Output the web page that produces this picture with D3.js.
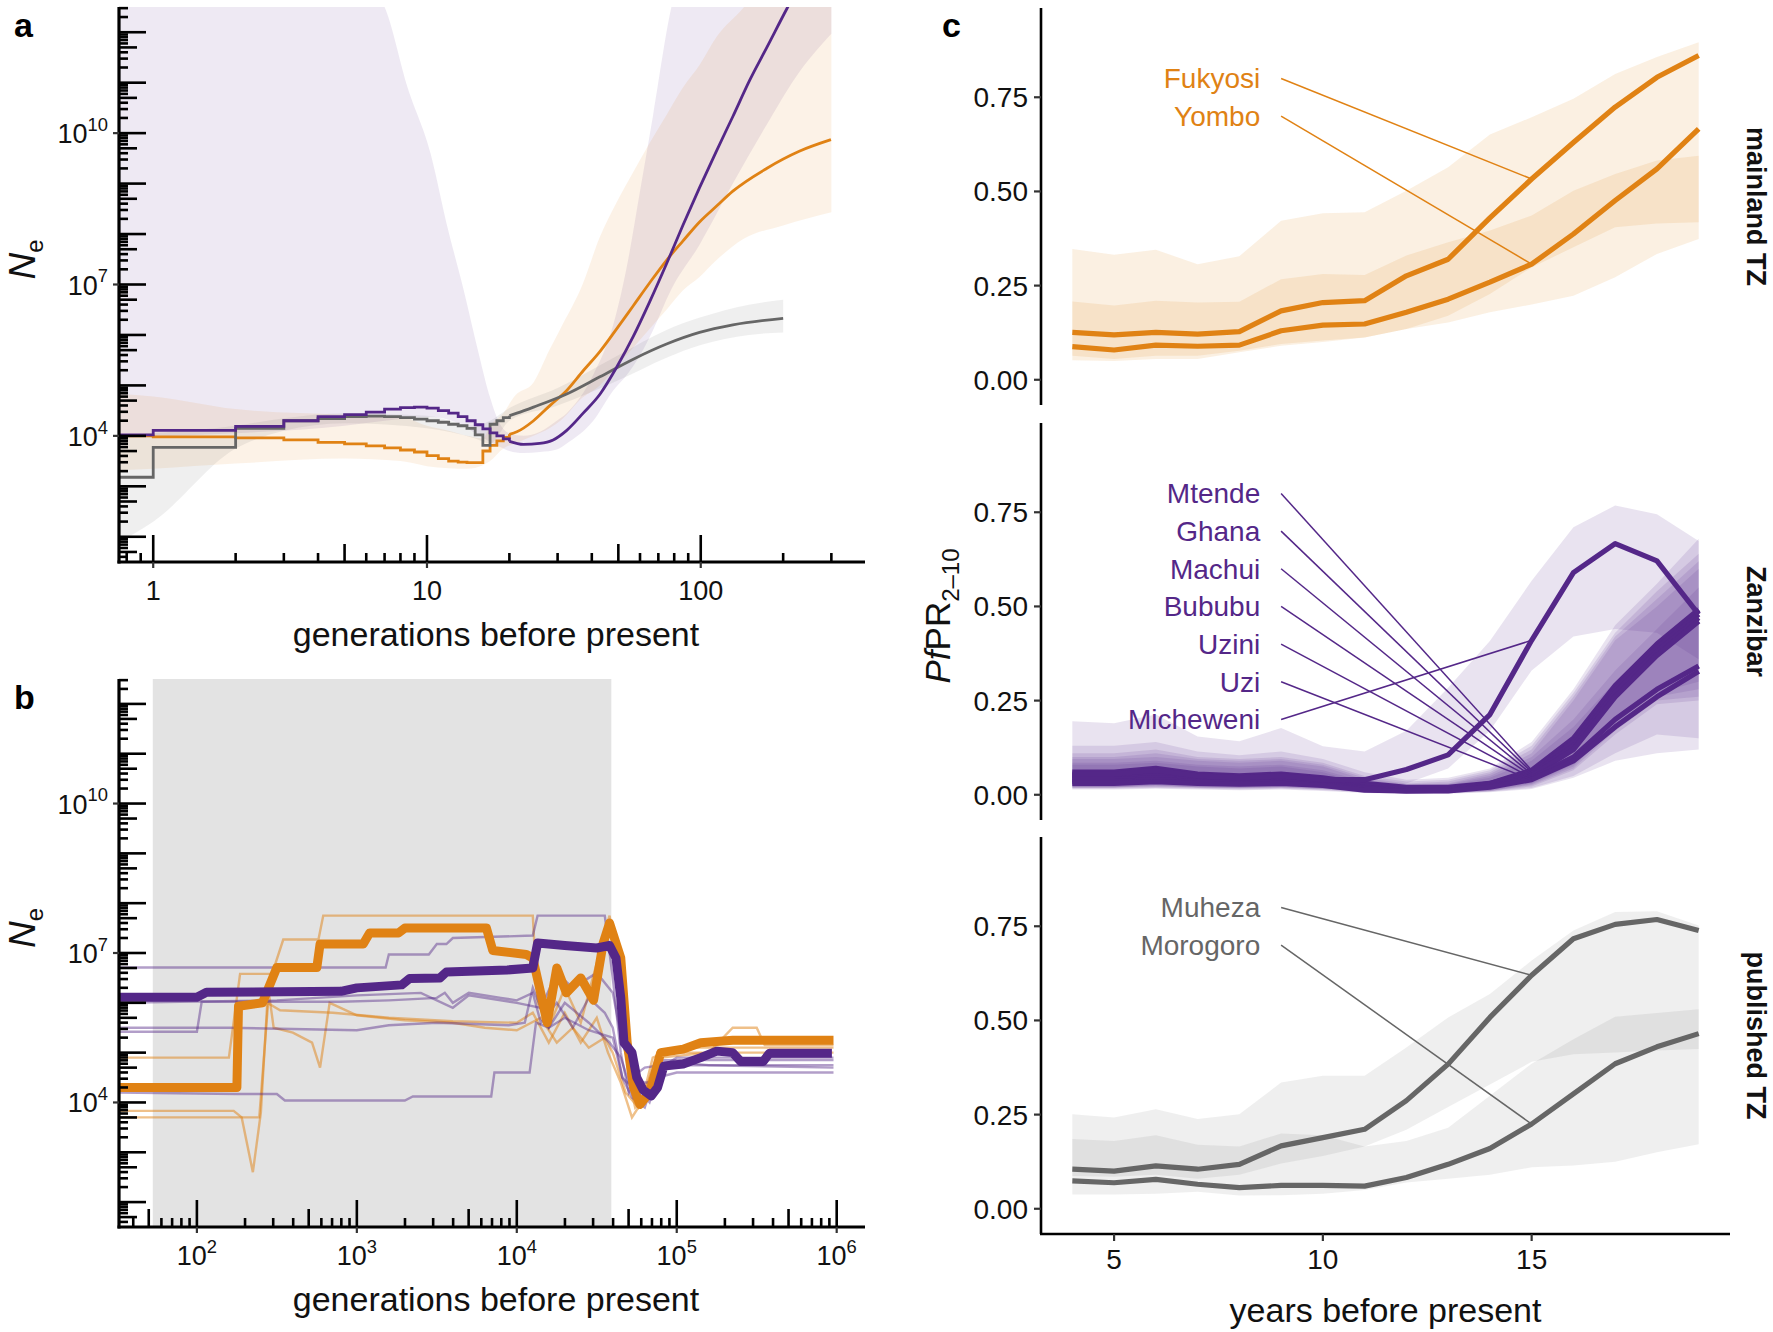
<!DOCTYPE html>
<meta charset="utf-8">
<html>
<head>
  <script src="https://cdn.jsdelivr.net/npm/d3@7"></script>
  <style>
    body { margin: 0; background: #fff; }
    svg { display: block; }
    .sans { font-family: "Liberation Sans", Arial, Helvetica, sans-serif; }
    .narrow { font-family: "Liberation Sans Narrow", "Arial Narrow", "Liberation Sans", sans-serif; }
  </style>
</head>
<body>
<svg id="fig" width="1773" height="1332"></svg>
<script>
  // ---------- panel a : [generations, log10 Ne] ----------
  var aPurpleSteps = [[0.75,4.02],[1,4.11],[2,4.19],[3,4.30],[4,4.38],[5,4.42],[6,4.47],[7,4.53],[8,4.56],[9,4.57],[10,4.55],[11,4.50],[12,4.45],[13,4.38],[14,4.30],[15,4.22],[16,4.14],[17,4.06],[18,4.0],[19,3.94],[20,3.89]]
  var aPurpleCurve = [[20,3.89],[22.5,3.83],[25.8,3.85],[28.9,3.92],[32.4,4.11],[37.2,4.45],[42.9,4.83],[49.3,5.36],[56.7,5.97],[65,6.65],[75,7.41],[86,8.17],[99,8.92],[114,9.64],[131,10.33],[151,11.05],[174,11.69],[207,12.48],[250,13.3]]
  var aOrangeSteps = [[0.75,4.0],[1,3.98],[2,3.96],[3,3.92],[4,3.87],[5,3.84],[6,3.80],[7,3.76],[8,3.72],[9,3.68],[10,3.61],[11,3.55],[12,3.5],[13,3.48],[14,3.47],[15,3.47],[16,3.7],[17,3.81],[18,3.9],[19,3.97],[20,4.03]]
  var aOrangeCurve = [[20,4.03],[21.3,4.08],[24.5,4.3],[28.1,4.6],[32.4,4.9],[37.2,5.29],[42.8,5.67],[49.3,6.12],[56.7,6.58],[65,7.03],[75,7.48],[86,7.86],[99,8.24],[114,8.55],[131,8.85],[174,9.3],[229,9.64],[299,9.87]]
  var aGreySteps = [[0.75,3.18],[1,3.77],[2,4.15],[3,4.30],[4,4.34],[5,4.38],[6,4.39],[7,4.38],[8,4.36],[9,4.33],[10,4.3],[11,4.27],[12,4.23],[13,4.2],[14,4.15],[15,4.02],[16,3.81],[17,4.23],[18,4.3],[19,4.36],[20,4.4]]
  var aGreyCurve = [[20,4.4],[21.3,4.45],[24.5,4.57],[32.4,4.83],[42.8,5.17],[56.7,5.52],[75,5.82],[99,6.05],[131,6.2],[200,6.33]]
  // bands: [generations, lo, hi]
  var aPurpleBand = [[0.75,3.95,13.5],[1,3.98,13.5],[2,4.05,13.5],[5,4.2,13.4],[7.0,4.3,12.5],[8.5,4.35,10.9],[10.3,4.38,9.6],[11.8,4.33,8.2],[13.6,4.2,6.9],[15.5,4.0,5.6],[17,3.88,4.76],[18.5,3.78,4.23],[20,3.7,4.05],[22.5,3.66,4.0],[25.9,3.68,4.08],[29.8,3.73,4.3],[32.4,3.85,4.45],[40.5,4.3,5.21],[47.9,4.9,6.2],[53.6,5.2,7.33],[60,5.6,8.85],[67,6.1,10.36],[78,6.9,12.48],[99,7.79,13.8],[131,9.0,14],[173,10.14,14],[223,11.12,14],[300,11.97,14]]
  var aOrangeBand = [[0.75,3.32,4.83],[1,3.35,4.78],[2,3.45,4.53],[5,3.55,4.42],[8,3.5,4.38],[10,3.4,4.2],[12,3.36,4.1],[14,3.35,4.0],[16,3.42,3.95],[17,3.5,4.2],[19,3.75,4.45],[21,3.85,4.8],[24.5,4.0,5.06],[28,4.15,5.7],[30.7,4.3,6.12],[37,4.76,7.0],[42.8,5.0,7.94],[49,5.36,8.6],[56.7,5.75,9.23],[65,6.12,9.8],[75,6.5,10.36],[86,6.88,10.9],[99,7.15,11.35],[114,7.48,11.9],[143,7.9,12.48],[200,8.17,13.5],[300,8.43,14]]
  var aGreyBand = [[0.75,1.9,4.0],[1,2.3,4.05],[2,3.75,4.2],[3,4.1,4.35],[5,4.25,4.45],[10,4.15,4.4],[15,3.95,4.2],[17,3.85,4.3],[20,4.3,4.55],[30,4.6,4.95],[50,5.1,5.6],[75,5.55,6.1],[100,5.8,6.35],[150,6.0,6.6],[200,6.05,6.7]]

  // ---------- panel b : [log10 generations, log10 Ne] ----------
  var bShade = [53, 39000]
  var bPurpleMean = [[1.51,6.11],[2.0,6.11],[2.06,6.21],[2.9,6.23],[3.0,6.3],[3.28,6.36],[3.33,6.49],[3.52,6.5],[3.56,6.62],[3.94,6.66],[4.1,6.7],[4.13,7.2],[4.3,7.15],[4.5,7.1],[4.58,7.15],[4.62,6.9],[4.65,6.1],[4.67,5.2],[4.72,5.0],[4.75,4.5],[4.79,4.25],[4.84,4.13],[4.88,4.3],[4.92,4.73],[5.04,4.77],[5.15,4.9],[5.25,5.03],[5.35,5.0],[5.4,4.82],[5.54,4.82],[5.58,4.99],[5.97,4.99]]
  var bOrangeMean = [[1.51,4.3],[2.25,4.3],[2.26,5.93],[2.41,6.0],[2.5,6.71],[2.75,6.71],[2.77,7.18],[3.04,7.18],[3.08,7.4],[3.26,7.4],[3.3,7.5],[3.81,7.5],[3.85,7.05],[4.06,6.97],[4.1,6.9],[4.15,6.19],[4.19,5.6],[4.25,6.7],[4.31,6.2],[4.4,6.5],[4.48,6.05],[4.54,7.2],[4.58,7.6],[4.65,6.9],[4.69,5.2],[4.73,4.3],[4.77,3.96],[4.83,4.2],[4.9,5.0],[5.04,5.07],[5.15,5.2],[5.35,5.25],[5.98,5.25]]
  var bOrange1 = [[1.51,4.9],[2.2,4.9],[2.27,6.58],[2.47,6.58],[2.54,7.27],[2.76,7.27],[2.79,7.75],[4.1,7.75],[4.13,6.0],[4.2,5.5],[4.3,6.3],[4.4,5.6],[4.5,6.8],[4.58,7.75],[4.62,7.0],[4.7,4.5],[4.74,3.9],[4.8,4.1],[4.86,4.6],[4.9,4.9],[5.2,5.0],[5.35,5.5],[5.5,5.5],[5.55,5.15],[5.98,5.15]]
  var bOrange2 = [[1.51,3.83],[2.23,3.83],[2.28,3.7],[2.35,2.6],[2.4,3.8],[2.44,6.0],[2.52,5.85],[2.85,5.8],[3.2,5.7],[3.6,5.63],[4.0,5.6],[4.1,5.8],[4.2,5.2],[4.3,5.8],[4.4,5.2],[4.5,5.7],[4.57,5.0],[4.65,4.4],[4.72,3.7],[4.78,4.0],[4.85,4.9],[5.0,5.1],[5.98,5.1]]
  var bOrange3 = [[1.51,3.7],[2.39,3.7],[2.45,6.2],[2.48,5.5],[2.6,5.4],[2.72,5.2],[2.77,4.7],[2.83,6.0],[3.0,5.75],[3.3,5.65],[3.6,5.6],[3.8,5.5],[4.0,5.45],[4.15,5.7],[4.25,5.2],[4.35,5.5],[4.45,5.1],[4.55,5.3],[4.6,5.0],[4.68,4.2],[4.76,3.9],[4.82,4.4],[4.88,5.0],[5.98,5.0]]
  var bPurple1 = [[1.51,6.71],[3.18,6.71],[3.2,6.97],[3.45,6.97],[3.5,7.18],[3.56,7.18],[3.6,7.3],[4.1,7.35],[4.13,7.75],[4.55,7.75],[4.6,6.5],[4.65,5.0],[4.7,4.2],[4.76,4.6],[4.8,4.7],[5.0,4.8],[5.2,4.75],[5.98,4.75]]
  var bPurple2 = [[1.51,5.42],[2.0,5.42],[2.03,6.02],[2.9,6.02],[3.2,6.05],[3.5,6.1],[3.55,6.2],[3.6,6.0],[3.7,6.2],[3.9,6.1],[4.0,6.05],[4.1,6.2],[4.15,5.6],[4.25,6.0],[4.35,5.5],[4.45,6.1],[4.55,5.8],[4.6,5.5],[4.66,4.5],[4.72,4.1],[4.8,3.9],[4.86,4.5],[4.92,4.7],[5.1,4.75],[5.98,4.7]]
  var bPurple3 = [[1.51,5.5],[2.2,5.5],[3.0,5.45],[3.2,5.55],[3.5,5.6],[3.95,5.55],[4.05,5.6],[4.1,6.3],[4.2,5.5],[4.3,6.0],[4.45,5.6],[4.58,5.2],[4.65,4.9],[4.7,4.4],[4.85,4.4],[4.9,4.85],[5.2,4.85],[5.98,4.85]]
  var bPurple4 = [[1.51,4.2],[2.25,4.17],[2.5,4.17],[2.55,4.04],[3.3,4.04],[3.35,4.12],[3.84,4.12],[3.86,4.6],[4.08,4.6],[4.12,5.6],[4.2,5.5],[4.3,5.7],[4.45,5.45],[4.6,5.3],[4.66,4.5],[4.72,4.3],[4.8,4.0],[4.88,4.5],[5.0,4.6],[5.98,4.6]]
  var bPurple5 = [[1.51,6.0],[2.5,6.05],[3.0,6.15],[3.4,6.2],[3.6,5.9],[3.7,6.15],[4.0,6.0],[4.15,5.9],[4.25,6.6],[4.35,6.3],[4.5,6.6],[4.6,6.2],[4.66,5.2],[4.75,4.3],[4.83,4.0],[4.9,4.7],[5.0,4.9],[5.98,4.9]]

  // ---------- panel c : PfPR2-10 by year ----------
  var years = [4,5,6,7,8,9,10,11,12,13,14,15,16,17,18,19]
  var yearTicks = [5, 10, 15]
  var prTicks = [0, 0.25, 0.5, 0.75]

  var fukyosiMean = [0.126,0.119,0.126,0.121,0.128,0.183,0.205,0.21,0.276,0.32,0.43,0.533,0.63,0.724,0.803,0.861]
  var fukyosiLo = [0.064,0.055,0.064,0.064,0.077,0.095,0.104,0.112,0.135,0.17,0.228,0.298,0.352,0.405,0.415,0.418]
  var fukyosiHi = [0.347,0.332,0.345,0.307,0.328,0.422,0.442,0.445,0.502,0.564,0.651,0.697,0.746,0.812,0.857,0.896]
  var yomboMean = [0.088,0.079,0.092,0.089,0.092,0.13,0.145,0.148,0.179,0.214,0.259,0.307,0.387,0.476,0.56,0.666]
  var yomboLo = [0.052,0.05,0.055,0.055,0.073,0.09,0.1,0.112,0.135,0.152,0.179,0.2,0.223,0.272,0.334,0.374]
  var yomboHi = [0.208,0.197,0.21,0.205,0.207,0.267,0.281,0.278,0.33,0.365,0.396,0.436,0.502,0.546,0.582,0.595]

  var mtendeMean = [0.06,0.06,0.07,0.055,0.05,0.055,0.045,0.03,0.02,0.02,0.03,0.065,0.15,0.29,0.40,0.492]
  var mtendeLo = [0.025,0.025,0.03,0.025,0.022,0.025,0.02,0.012,0.008,0.008,0.012,0.03,0.08,0.19,0.27,0.3]
  var mtendeHi = [0.13,0.13,0.14,0.115,0.105,0.115,0.095,0.06,0.04,0.045,0.07,0.14,0.28,0.45,0.56,0.68]
  var ghanaMean = [0.05,0.05,0.06,0.05,0.045,0.05,0.04,0.025,0.015,0.015,0.03,0.06,0.14,0.28,0.39,0.479]
  var ghanaLo = [0.02,0.02,0.025,0.02,0.02,0.022,0.018,0.01,0.006,0.006,0.01,0.028,0.075,0.18,0.26,0.28]
  var ghanaHi = [0.11,0.11,0.12,0.1,0.095,0.1,0.085,0.05,0.035,0.04,0.065,0.13,0.27,0.43,0.54,0.64]
  var machuiMean = [0.045,0.045,0.05,0.045,0.04,0.045,0.035,0.02,0.015,0.015,0.028,0.055,0.13,0.27,0.38,0.47]
  var machuiLo = [0.02,0.02,0.022,0.02,0.018,0.02,0.015,0.008,0.005,0.005,0.01,0.025,0.07,0.17,0.25,0.26]
  var machuiHi = [0.1,0.1,0.11,0.095,0.09,0.095,0.08,0.045,0.03,0.035,0.06,0.12,0.26,0.42,0.52,0.62]
  var bububuMean = [0.04,0.04,0.045,0.04,0.035,0.04,0.03,0.018,0.012,0.013,0.025,0.05,0.12,0.26,0.37,0.461]
  var bububuLo = [0.018,0.018,0.02,0.018,0.016,0.018,0.014,0.007,0.004,0.004,0.009,0.022,0.065,0.16,0.24,0.25]
  var bububuHi = [0.095,0.095,0.1,0.09,0.085,0.09,0.075,0.04,0.028,0.03,0.055,0.11,0.25,0.41,0.5,0.6]
  var uziniMean = [0.035,0.035,0.04,0.035,0.03,0.035,0.028,0.015,0.01,0.012,0.022,0.045,0.1,0.2,0.28,0.342]
  var uziniLo = [0.016,0.016,0.018,0.016,0.014,0.016,0.012,0.006,0.003,0.004,0.008,0.018,0.05,0.11,0.16,0.15]
  var uziniHi = [0.085,0.085,0.09,0.08,0.075,0.08,0.065,0.035,0.025,0.028,0.05,0.1,0.2,0.33,0.44,0.55]
  var uziMean = [0.03,0.03,0.035,0.03,0.028,0.03,0.025,0.012,0.01,0.01,0.02,0.04,0.09,0.18,0.26,0.328]
  var uziLo = [0.014,0.014,0.016,0.014,0.012,0.014,0.01,0.005,0.003,0.003,0.007,0.015,0.045,0.09,0.11,0.12]
  var uziHi = [0.08,0.08,0.085,0.075,0.07,0.075,0.06,0.03,0.022,0.025,0.045,0.09,0.18,0.3,0.4,0.5]
  var michewMean = [0.055,0.055,0.065,0.05,0.045,0.05,0.04,0.04,0.067,0.106,0.213,0.41,0.59,0.667,0.621,0.479]
  var michewLo = [0.02,0.02,0.025,0.02,0.018,0.02,0.015,0.015,0.03,0.07,0.17,0.33,0.42,0.44,0.43,0.36]
  var michewHi = [0.195,0.19,0.213,0.155,0.142,0.177,0.129,0.115,0.17,0.284,0.408,0.568,0.71,0.768,0.745,0.674]

  var muhezaMean = [0.105,0.1,0.114,0.105,0.118,0.167,0.189,0.211,0.287,0.384,0.508,0.62,0.717,0.755,0.768,0.739]
  var muhezaLo = [0.087,0.085,0.09,0.08,0.09,0.12,0.14,0.165,0.21,0.27,0.33,0.39,0.41,0.415,0.42,0.424]
  var muhezaHi = [0.251,0.242,0.264,0.238,0.251,0.335,0.353,0.353,0.428,0.508,0.57,0.659,0.739,0.788,0.79,0.752]
  var morogoroMean = [0.074,0.069,0.078,0.065,0.056,0.062,0.062,0.06,0.083,0.118,0.16,0.225,0.305,0.385,0.43,0.465]
  var morogoroLo = [0.038,0.038,0.04,0.045,0.035,0.036,0.04,0.05,0.07,0.08,0.09,0.11,0.115,0.125,0.15,0.171]
  var morogoroHi = [0.185,0.18,0.195,0.17,0.165,0.2,0.195,0.165,0.18,0.215,0.3,0.385,0.45,0.51,0.52,0.53]

  const ORANGE = "#e08214", PURPLE = "#542788", GREY = "#666666"
  const svg = d3.select("#fig")

  function sup(sel, base, exp, size) {
    sel.append("tspan").text(base)
    sel.append("tspan").attr("dy", -size * 0.45).attr("font-size", size * 0.68).text(exp)
  }

  // log ticks in the style of annotation_logticks
  function logTicks(scale) {
    var d = scale.domain(), out = []
    for (var k = Math.floor(Math.log10(d[0])); k <= Math.ceil(Math.log10(d[1])); k++) {
      for (var m = 1; m <= 9; m++) {
        var v = m * Math.pow(10, k)
        if (v >= d[0] && v <= d[1]) out.push({ v: v, len: m === 1 ? 27 : (m === 5 ? 18 : 9) })
      }
    }
    return out
  }

  function logFrame(g, x, y, xLabels, yLabels, xTitle) {
    var x0 = x.range()[0], x1 = x.range()[1], y0 = y.range()[0], y1 = y.range()[1]
    g.append("g").selectAll("line").data(logTicks(y)).join("line")
      .attr("x1", x0).attr("x2", d => x0 + d.len)
      .attr("y1", d => y(d.v)).attr("y2", d => y(d.v))
      .attr("stroke", "#000").attr("stroke-width", 2.6)
    g.append("g").selectAll("line").data(logTicks(x)).join("line")
      .attr("y1", y0).attr("y2", d => y0 - d.len)
      .attr("x1", d => x(d.v)).attr("x2", d => x(d.v))
      .attr("stroke", "#000").attr("stroke-width", 2.6)
    g.append("line").attr("x1", x0).attr("x2", x0).attr("y1", y1).attr("y2", y0 + 1.5)
      .attr("stroke", "#000").attr("stroke-width", 3.2)
    g.append("line").attr("x1", x0 - 1.5).attr("x2", x1).attr("y1", y0).attr("y2", y0)
      .attr("stroke", "#000").attr("stroke-width", 3.2)

    yLabels.forEach(function (e) {
      g.append("line").attr("x1", x0 - 6).attr("x2", x0).attr("y1", y(Math.pow(10, e))).attr("y2", y(Math.pow(10, e)))
        .attr("stroke", "#333").attr("stroke-width", 2.2)
      var t = g.append("text").attr("class", "sans").attr("x", x0 - 11).attr("y", y(Math.pow(10, e)) + 10)
        .attr("text-anchor", "end").attr("font-size", 27).attr("fill", "#111")
      sup(t, "10", String(e), 27)
    })
    xLabels.forEach(function (l) {
      g.append("line").attr("x1", x(l.v)).attr("x2", x(l.v)).attr("y1", y0).attr("y2", y0 + 6)
        .attr("stroke", "#333").attr("stroke-width", 2.2)
      var t = g.append("text").attr("class", "sans").attr("x", x(l.v)).attr("y", y0 + 38)
        .attr("text-anchor", "middle").attr("font-size", 27).attr("fill", "#111")
      if (l.e !== undefined) sup(t, "10", String(l.e), 27)
      else t.text(l.t)
    })
    g.append("text").attr("class", "sans").attr("x", (x0 + x1) / 2 + 4).attr("y", y0 + 84)
      .attr("text-anchor", "middle").attr("font-size", 34).attr("fill", "#111").text(xTitle)
    var ny = (y0 + y1) / 2 - 25
    var yt = g.append("text").attr("class", "sans").attr("transform", "translate(35," + ny + ") rotate(-90)")
      .attr("text-anchor", "middle").attr("font-size", 37).attr("fill", "#111")
    yt.append("tspan").attr("font-style", "italic").text("N")
    yt.append("tspan").attr("dy", 8).attr("font-size", 24).text("e")
  }

  // ---------- panel a ----------
  const xA = d3.scaleLog().domain([Math.pow(10, -0.125), Math.pow(10, 2.6)]).range([119, 865])
  const yA = d3.scaleLog().domain([Math.pow(10, 1.5), Math.pow(10, 12.5)]).range([562, 7])
  const gA = svg.append("g")
  svg.append("clipPath").attr("id", "clipA").append("rect")
    .attr("x", 119).attr("y", 7).attr("width", 746).attr("height", 555)
  const plotA = gA.append("g").attr("clip-path", "url(#clipA)")

  var bandA = d3.area().curve(d3.curveMonotoneX)
    .x(d => xA(d[0])).y0(d => yA(Math.pow(10, d[1]))).y1(d => yA(Math.pow(10, d[2])))
  var stepA = d3.line().curve(d3.curveStepAfter).x(d => xA(d[0])).y(d => yA(Math.pow(10, d[1])))
  var smoothA = d3.line().curve(d3.curveMonotoneX).x(d => xA(d[0])).y(d => yA(Math.pow(10, d[1])))

  ;[[aPurpleBand, PURPLE], [aOrangeBand, ORANGE], [aGreyBand, GREY]].forEach(function (b) {
    plotA.append("path").attr("d", bandA(b[0])).attr("fill", b[1]).attr("fill-opacity", 0.1)
  })
  ;[[aOrangeSteps, aOrangeCurve, ORANGE], [aGreySteps, aGreyCurve, GREY], [aPurpleSteps, aPurpleCurve, PURPLE]].forEach(function (s) {
    plotA.append("path").attr("d", stepA(s[0])).attr("fill", "none").attr("stroke", s[2]).attr("stroke-width", 2.8)
    plotA.append("path").attr("d", smoothA(s[1])).attr("fill", "none").attr("stroke", s[2]).attr("stroke-width", 2.8)
  })
  logFrame(gA, xA, yA, [{ v: 1, t: "1" }, { v: 10, t: "10" }, { v: 100, t: "100" }], [4, 7, 10], "generations before present")

  // ---------- panel b ----------
  const xB = d3.scaleLog().domain([Math.pow(10, 1.513), Math.pow(10, 6.177)]).range([119, 865])
  const yB = d3.scaleLog().domain([Math.pow(10, 1.5), Math.pow(10, 12.5)]).range([1227, 679])
  const gB = svg.append("g")
  svg.append("clipPath").attr("id", "clipB").append("rect")
    .attr("x", 119).attr("y", 679).attr("width", 746).attr("height", 548)
  const plotB = gB.append("g").attr("clip-path", "url(#clipB)")
  plotB.append("rect").attr("x", xB(bShade[0])).attr("width", xB(bShade[1]) - xB(bShade[0]))
    .attr("y", 679).attr("height", 548).attr("fill", "#e3e3e3")

  var lineB = d3.line().x(d => xB(Math.pow(10, d[0]))).y(d => yB(Math.pow(10, d[1])))
  ;[bOrange1, bOrange2, bOrange3].forEach(function (l) {
    plotB.append("path").attr("d", lineB(l)).attr("fill", "none").attr("stroke", ORANGE)
      .attr("stroke-opacity", 0.5).attr("stroke-width", 2.4)
  })
  ;[bPurple1, bPurple2, bPurple3, bPurple4, bPurple5].forEach(function (l) {
    plotB.append("path").attr("d", lineB(l)).attr("fill", "none").attr("stroke", PURPLE)
      .attr("stroke-opacity", 0.45).attr("stroke-width", 2.4)
  })
  plotB.append("path").attr("d", lineB(bOrangeMean)).attr("fill", "none").attr("stroke", ORANGE)
    .attr("stroke-width", 9).attr("stroke-linejoin", "round")
  plotB.append("path").attr("d", lineB(bPurpleMean)).attr("fill", "none").attr("stroke", PURPLE)
    .attr("stroke-width", 9).attr("stroke-linejoin", "round")
  logFrame(gB, xB, yB, [2, 3, 4, 5, 6].map(e => ({ v: Math.pow(10, e), e: e })), [4, 7, 10], "generations before present")

  // ---------- panel c ----------
  function site(name, mean, lo, hi) { return { name: name, mean: mean, lo: lo, hi: hi } }
  const facets = [
    { strip: "mainland TZ", color: ORANGE, alpha: 0.12, top: 8,
      sites: [site("Fukyosi", fukyosiMean, fukyosiLo, fukyosiHi), site("Yombo", yomboMean, yomboLo, yomboHi)] },
    { strip: "Zanzibar", color: PURPLE, alpha: 0.13, top: 423,
      sites: [site("Mtende", mtendeMean, mtendeLo, mtendeHi), site("Ghana", ghanaMean, ghanaLo, ghanaHi),
              site("Machui", machuiMean, machuiLo, machuiHi), site("Bububu", bububuMean, bububuLo, bububuHi),
              site("Uzini", uziniMean, uziniLo, uziniHi), site("Uzi", uziMean, uziLo, uziHi),
              site("Micheweni", michewMean, michewLo, michewHi)] },
    { strip: "published TZ", color: GREY, alpha: 0.1, top: 837,
      sites: [site("Muheza", muhezaMean, muhezaLo, muhezaHi), site("Morogoro", morogoroMean, morogoroLo, morogoroHi)] }
  ]
  const facetH = 397
  const xC = d3.scaleLinear().domain([3.25, 19.75]).range([1041, 1730])
  const gC = svg.append("g")

  facets.forEach(function (f) {
    var y = d3.scaleLinear().domain([-0.067, 0.987]).range([f.top + facetH, f.top])
    var g = gC.append("g")
    var area = d3.area().x((d, i) => xC(years[i])).y0(d => y(d[0])).y1(d => y(d[1]))
    var line = d3.line().x((d, i) => xC(years[i])).y(d => y(d))
    f.sites.forEach(function (s) {
      g.append("path").attr("d", area(s.lo.map((v, i) => [v, s.hi[i]])))
        .attr("fill", f.color).attr("fill-opacity", f.alpha)
    })
    f.sites.forEach(function (s) {
      g.append("path").attr("d", line(s.mean)).attr("fill", "none").attr("stroke", f.color)
        .attr("stroke-width", 5.2).attr("stroke-linejoin", "round")
    })
    // labels with leader lines to year 15
    var i15 = years.indexOf(15)
    f.sites.forEach(function (s, k) {
      var ly = 0.8 - 0.1 * k
      g.append("line").attr("x1", xC(9)).attr("y1", y(ly)).attr("x2", xC(15)).attr("y2", y(s.mean[i15]))
        .attr("stroke", f.color).attr("stroke-width", 1.5)
      g.append("text").attr("class", "narrow").attr("x", xC(8.5)).attr("y", y(ly) + 10)
        .attr("text-anchor", "end").attr("font-size", 28).attr("fill", f.color).text(s.name)
    })
    // y axis
    g.append("line").attr("x1", 1041).attr("x2", 1041).attr("y1", f.top).attr("y2", f.top + facetH)
      .attr("stroke", "#000").attr("stroke-width", 2.6)
    prTicks.forEach(function (t) {
      g.append("line").attr("x1", 1034).attr("x2", 1041).attr("y1", y(t)).attr("y2", y(t))
        .attr("stroke", "#333").attr("stroke-width", 2.2)
      g.append("text").attr("class", "narrow").attr("x", 1028).attr("y", y(t) + 10)
        .attr("text-anchor", "end").attr("font-size", 28).attr("fill", "#111").text(d3.format(".2f")(t))
    })
    g.append("text").attr("class", "sans")
      .attr("transform", "translate(1747," + (f.top + facetH / 2) + ") rotate(90)")
      .attr("text-anchor", "middle").attr("font-size", 27).attr("font-weight", "bold").attr("fill", "#111")
      .text(f.strip)
  })

  // x axis of bottom facet
  const yAxisC = 837 + facetH
  gC.append("line").attr("x1", 1040).attr("x2", 1730).attr("y1", yAxisC).attr("y2", yAxisC)
    .attr("stroke", "#000").attr("stroke-width", 2.6)
  yearTicks.forEach(function (t) {
    gC.append("line").attr("x1", xC(t)).attr("x2", xC(t)).attr("y1", yAxisC).attr("y2", yAxisC + 7)
      .attr("stroke", "#333").attr("stroke-width", 2.2)
    gC.append("text").attr("class", "narrow").attr("x", xC(t)).attr("y", yAxisC + 35)
      .attr("text-anchor", "middle").attr("font-size", 28).attr("fill", "#111").text(t)
  })
  gC.append("text").attr("class", "narrow").attr("x", (1041 + 1730) / 2).attr("y", 1322)
    .attr("text-anchor", "middle").attr("font-size", 34).attr("fill", "#111").text("years before present")
  var pf = gC.append("text").attr("class", "sans").attr("transform", "translate(950,616) rotate(-90)")
    .attr("text-anchor", "middle").attr("font-size", 35).attr("fill", "#111")
  pf.append("tspan").attr("font-style", "italic").text("Pf")
  pf.append("tspan").text("PR")
  pf.append("tspan").attr("dy", 9).attr("font-size", 24).text("2\u201310")

  // panel letters
  ;[["a", 14, 37], ["b", 14, 709], ["c", 942, 37]].forEach(function (p) {
    svg.append("text").attr("class", "sans").attr("x", p[1]).attr("y", p[2])
      .attr("font-size", 34).attr("font-weight", "bold").attr("fill", "#000").text(p[0])
  })
</script>
</body>
</html>
